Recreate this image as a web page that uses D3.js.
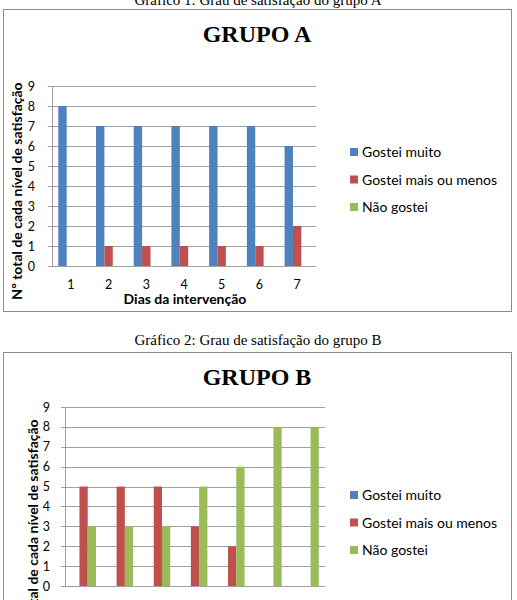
<!DOCTYPE html>
<html>
<head>
<meta charset="utf-8">
<script src="https://cdn.jsdelivr.net/npm/d3@7"></script>
<style>
  body { margin: 0; background: #fff; overflow: hidden; }
</style>
</head>
<body>
<script>
// data
var days = ["1", "2", "3", "4", "5", "6", "7"];
var seriesNames = ["Gostei muito", "Gostei mais ou menos", "Não gostei"];
var seriesColors = ["#4F81BD", "#C0504D", "#9BBB59"];
var yTicks = [0, 1, 2, 3, 4, 5, 6, 7, 8, 9];

var grupoA_muito = [8, 7, 7, 7, 7, 7, 6];
var grupoA_mais = [0, 1, 1, 1, 1, 1, 2];
var grupoA_nao = [0, 0, 0, 0, 0, 0, 0];

var grupoB_muito = [0, 0, 0, 0, 0, 0, 0];
var grupoB_mais = [5, 5, 5, 3, 2, 0, 0];
var grupoB_nao = [3, 3, 3, 5, 6, 8, 8];

var svg = d3.select("body").append("svg")
    .attr("width", 517)
    .attr("height", 600);

var serif = "'Liberation Serif', 'Times New Roman', serif";
var sans = "Lato, 'Open Sans', sans-serif";

// captions
svg.append("text")
    .attr("x", 258).attr("y", 5)
    .attr("text-anchor", "middle")
    .style("font-family", serif).style("font-size", "15px")
    .text("Gráfico 1: Grau de satisfação do grupo A");

svg.append("text")
    .attr("x", 258).attr("y", 345)
    .attr("text-anchor", "middle")
    .style("font-family", serif).style("font-size", "15px")
    .text("Gráfico 2: Grau de satisfação do grupo B");

function drawChart(opt) {
    var g = svg.append("g");

    // outer box
    g.append("rect")
        .attr("x", 3.5).attr("y", opt.boxTop + 0.5)
        .attr("width", 508).attr("height", opt.boxHeight)
        .attr("fill", "none")
        .attr("stroke", "#8c8c8c");

    g.append("text")
        .attr("x", 257).attr("y", opt.boxTop + 33)
        .attr("text-anchor", "middle")
        .style("font-family", serif).style("font-size", "24px").style("font-weight", "bold")
        .text(opt.title);

    var x0 = d3.scaleBand()
        .domain(days)
        .range([opt.left, opt.right])
        .paddingInner(1.5 / 4.5)
        .paddingOuter(0.75 / 4.5);

    var x1 = d3.scaleBand()
        .domain(seriesNames)
        .range([0, x0.bandwidth()]);

    var y = d3.scaleLinear()
        .domain([0, 9])
        .range([opt.bottom, opt.top]);

    // gridlines
    g.append("g")
        .selectAll("line")
        .data(yTicks)
        .join("line")
        .attr("x1", opt.left - 4)
        .attr("x2", opt.right)
        .attr("y1", function(d) { return Math.round(y(d)) + 0.5; })
        .attr("y2", function(d) { return Math.round(y(d)) + 0.5; })
        .attr("stroke", "#a0a0a0");

    // y axis line
    g.append("line")
        .attr("x1", opt.left + 0.5).attr("x2", opt.left + 0.5)
        .attr("y1", y(9)).attr("y2", y(0))
        .attr("stroke", "#a0a0a0");

    // y tick labels
    g.append("g")
        .selectAll("text")
        .data(yTicks)
        .join("text")
        .attr("x", opt.left - opt.tickGap)
        .attr("y", function(d) { return y(d) + 4.5; })
        .attr("text-anchor", "end")
        .style("font-family", sans).style("font-size", "12.5px")
        .text(function(d) { return d; });

    // bars
    var groups = g.append("g")
        .selectAll("g")
        .data(days)
        .join("g")
        .attr("transform", function(d) { return "translate(" + x0(d) + ",0)"; });

    groups.selectAll("rect")
        .data(function(d, i) {
            return seriesNames.map(function(s, j) {
                return { key: s, value: opt.series[j][i], color: seriesColors[j] };
            });
        })
        .join("rect")
        .attr("x", function(d) { return x1(d.key); })
        .attr("width", x1.bandwidth())
        .attr("y", function(d) { return y(d.value); })
        .attr("height", function(d) { return y(0) - y(d.value); })
        .attr("fill", function(d) { return d.color; });

    // x tick labels
    g.append("g")
        .selectAll("text")
        .data(days)
        .join("text")
        .attr("x", function(d) { return x0(d) + x0.bandwidth() / 2; })
        .attr("y", opt.bottom + opt.labelGap)
        .attr("text-anchor", "middle")
        .style("font-family", sans).style("font-size", "12.5px")
        .text(function(d) { return d; });

    // axis titles
    g.append("text")
        .attr("x", 185).attr("y", opt.bottom + 38)
        .attr("text-anchor", "middle")
        .style("font-family", sans).style("font-size", "14px").style("font-weight", "bold")
        .text("Dias da intervenção");

    g.append("text")
        .attr("transform", "translate(" + opt.yTitleX + "," + opt.yTitleY + ") rotate(-90)")
        .attr("text-anchor", "middle")
        .style("font-family", sans).style("font-size", "14px").style("font-weight", "bold")
        .text("Nº total de cada nível de satisfação");

    // legend
    var legend = g.append("g")
        .selectAll("g")
        .data(seriesNames)
        .join("g")
        .attr("transform", function(d, i) { return "translate(350," + (opt.legendTop + i * 27.5) + ")"; });

    legend.append("rect")
        .attr("x", 0).attr("y", -4)
        .attr("width", 8).attr("height", 8)
        .attr("fill", function(d, i) { return seriesColors[i]; });

    legend.append("text")
        .attr("x", 12).attr("y", 5)
        .style("font-family", sans).style("font-size", "14px")
        .text(function(d) { return d; });
}

drawChart({
    title: "GRUPO A",
    boxTop: 9, boxHeight: 302,
    left: 52, right: 316, top: 86, bottom: 266,
    tickGap: 17, labelGap: 23,
    yTitleX: 22, yTitleY: 191,
    legendTop: 152,
    series: [grupoA_muito, grupoA_mais, grupoA_nao]
});

drawChart({
    title: "GRUPO B",
    boxTop: 352, boxHeight: 300,
    left: 65, right: 325, top: 407, bottom: 586,
    tickGap: 15, labelGap: 26,
    yTitleX: 38, yTitleY: 528,
    legendTop: 495,
    series: [grupoB_muito, grupoB_mais, grupoB_nao]
});
</script>
</body>
</html>
